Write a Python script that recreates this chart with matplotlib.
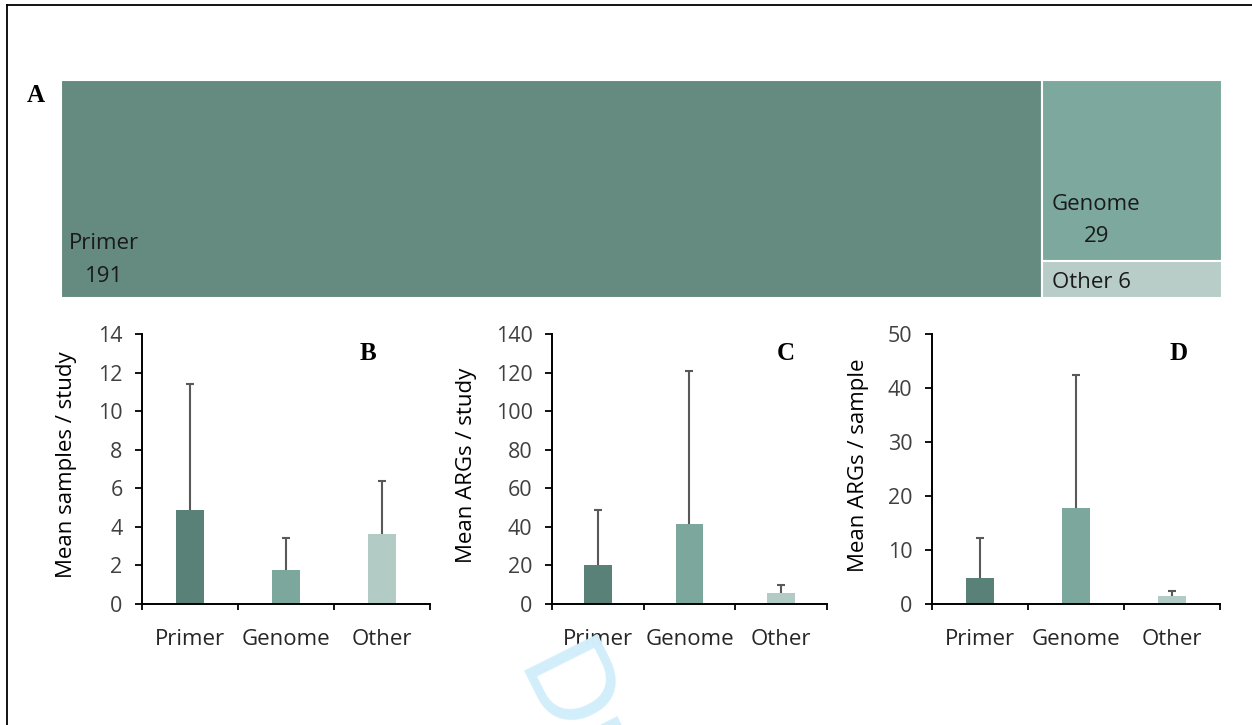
import matplotlib.pyplot as plt
from matplotlib.patches import Rectangle
from matplotlib.lines import Line2D

plt.rcParams['font.family'] = ['Open Sans', 'DejaVu Sans']

# données
categories = ['Primer', 'Genome', 'Other']
nb_etudes = [191, 29, 6]

samples_moy = [4.9, 1.75, 3.65]
samples_haut = [11.4, 3.4, 6.4]

args_etude_moy = [20, 41.5, 5.5]
args_etude_haut = [48.5, 121, 10]

args_sample_moy = [4.9, 17.8, 1.5]
args_sample_haut = [12.2, 42.5, 2.5]

couleurs_treemap = ['#658a80', '#7da89d', '#b8cdc8']
couleurs_barres = ['#5a8177', '#7ba79c', '#b2ccc5']

W, H = 1252, 725
fig = plt.figure(figsize=(W / 100, H / 100), dpi=100)


def box(x0, y0, x1, y1):
    # pixels -> fraction de figure
    return [x0 / W, 1 - y1 / H, (x1 - x0) / W, (y1 - y0) / H]


# cadre
fig.add_artist(Line2D([7 / W, 7 / W], [0, 1 - 5 / H], color='black', lw=1.3))
fig.add_artist(Line2D([7 / W, 1], [1 - 5 / H, 1 - 5 / H], color='black', lw=1.3))

# filigrane (coupé par le bord comme sur l'original)
fig.text(513 / W, 1 - 670 / H, 'Draft', fontsize=85, family='Liberation Sans',
         color='#d3eefb', rotation=-63.4, rotation_mode='anchor',
         ha='left', va='baseline', zorder=0)

# A : treemap
ax_a = fig.add_axes(box(61, 80, 1222, 298))
ax_a.set_xlim(0, 1)
ax_a.set_ylim(0, 1)
ax_a.axis('off')
total = sum(nb_etudes)
w0 = nb_etudes[0] / total
reste = nb_etudes[1] + nb_etudes[2]
h_other = nb_etudes[2] / reste
rects = [(0, 0, w0, 1), (w0, h_other, 1 - w0, 1 - h_other), (w0, 0, 1 - w0, h_other)]
for (x, y, w, h), c in zip(rects, couleurs_treemap):
    ax_a.add_patch(Rectangle((x, y), w, h, facecolor=c, edgecolor='white', lw=1.5))

kw = dict(textcoords='offset points', fontsize=16, color='#1a1a1a', va='center')
ax_a.annotate(categories[0], (0, 0), xytext=(31, 39.6), ha='center', **kw)
ax_a.annotate(str(nb_etudes[0]), (0, 0), xytext=(31, 15.8), ha='center', **kw)
ax_a.annotate(categories[1], (w0, h_other), xytext=(38.9, 40.3), ha='center', **kw)
ax_a.annotate(str(nb_etudes[1]), (w0, h_other), xytext=(38.9, 17.3), ha='center', **kw)
ax_a.annotate(f'{categories[2]} {nb_etudes[2]}', (w0, 0), xytext=(7.2, 11.5), ha='left', **kw)
fig.text(36 / W, 1 - 95 / H, 'A', fontsize=18, fontweight='bold',
         family='Liberation Serif', ha='center', va='center')


def barres(pos, moy, haut, ymax, pas, ylabel, lettre, lettre_xy, label_x):
    ax = fig.add_axes(box(*pos))
    x = list(range(len(categories)))
    ax.bar(x, moy, width=0.3, color=couleurs_barres, zorder=2)
    # barre d'erreur seulement vers le haut, un seul chapeau
    ax.vlines(x, moy, haut, color='#595959', lw=1.5, zorder=3)
    ax.plot(x, haut, ls='none', marker='_', markersize=6, markeredgewidth=1.5,
            color='#595959', zorder=3)
    ax.set_xlim(-0.5, 2.5)
    ax.set_ylim(0, ymax)
    ax.set_yticks(range(0, ymax + 1, pas))
    ax.set_xticks([-0.5, 0.5, 1.5, 2.5])
    ax.set_xticklabels([])
    ax.set_xticks(x, minor=True)
    ax.set_xticklabels(categories, minor=True)
    ax.tick_params(axis='x', which='major', direction='out', length=4.5, width=1.3)
    ax.tick_params(axis='x', which='minor', length=0, pad=18, labelsize=16,
                   labelcolor='#262626')
    ax.tick_params(axis='y', direction='out', length=5, width=1.3, pad=9,
                   labelsize=15.5, labelcolor='#404040')
    for s in ['top', 'right']:
        ax.spines[s].set_visible(False)
    for s in ['left', 'bottom']:
        ax.spines[s].set_linewidth(1.4)
    ax.set_ylabel(ylabel, fontsize=16)
    ax.yaxis.set_label_coords(label_x, 0.515)
    fig.text(lettre_xy[0] / W, 1 - lettre_xy[1] / H, lettre, fontsize=18,
             fontweight='bold', family='Liberation Serif', ha='center', va='center')
    return ax


barres((142, 334, 430, 604), samples_moy, samples_haut, 14, 2,
       'Mean samples / study', 'B', (368, 353), -0.226)
barres((552, 334, 827, 604), args_etude_moy, args_etude_haut, 140, 20,
       'Mean ARGs / study', 'C', (786, 353), -0.273)
barres((932, 334, 1220, 604), args_sample_moy, args_sample_haut, 50, 10,
       'Mean ARGs / sample', 'D', (1179, 353), -0.219)

fig.savefig('out.png', dpi=100)
